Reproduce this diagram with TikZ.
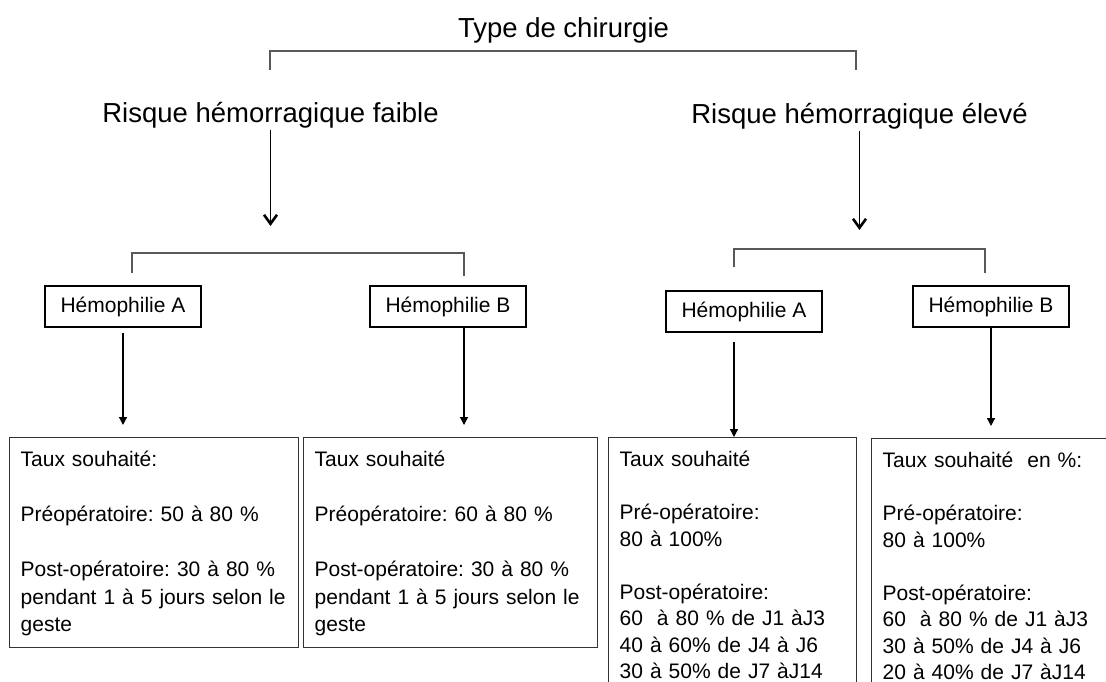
\documentclass[tikz,border=0pt]{standalone}
\usepackage{fontspec}
\setmainfont{Liberation Sans}
\usetikzlibrary{arrows.meta}
\definecolor{linegray}{rgb}{0.35, 0.35, 0.35}
\definecolor{boxgray}{rgb}{0.2, 0.2, 0.2}
\frenchspacing

\begin{document}
\begin{tikzpicture}[x=1pt, y=-1pt,
  head/.style={font=\fontsize{27.5}{33}\selectfont, anchor=base, inner sep=1pt},
  hemo/.style={draw=black, line width=1.2pt, minimum width=156pt, minimum height=41pt, inner sep=0pt, font=\fontsize{21}{25}\selectfont},
  rate/.style={draw=boxgray, line width=1.3pt, anchor=north west, align=left, inner xsep=11pt, inner ysep=0pt, text height=29pt, font=\fontsize{21}{27.5}\selectfont},
  brace/.style={draw=linegray, line width=1.5pt},
  bigarrow/.style={line width=1.5pt, -{Straight Barb[length=9pt,width=13pt,line width=2.6pt]}},
  smallarrow/.style={line width=1.3pt, -{Triangle[length=8pt,width=8pt]}}]
\useasboundingbox (0,0) rectangle (1106,682);
\clip (0,0) rectangle (1106,682);
%\draw [very thin, gray] (0,0) grid[step=50] (1106,682);
\draw (563.5,37.5) node[head] (title) {Type de chirurgie};
\draw (270.5,123) node[head] (rlow) {Risque hémorragique faible};
\draw (859.5,124) node[head] (rhigh) {Risque hémorragique élevé};
% brackets
\coordinate (tL) at (270,70); \coordinate (tR) at (856,70);
\draw[brace] (tL) -- ++(0,-19) -| (tR);
\coordinate (lL) at (132,273); \coordinate (lR) at (464,276);
\draw[brace] (lL) -- ++(0,-20) -| (lR);
\coordinate (hL) at (734,267); \coordinate (hR) at (985,273);
\draw[brace] (hL) -- ++(0,-18) -| (hR);
\coordinate (lowtip) at (270.5,226);
\coordinate (hightip) at (859.5,230);
\draw[bigarrow] (rlow.south) -- (lowtip);
\draw[bigarrow] (rhigh.south) -- (hightip);
\draw (123,306.5) node[hemo] (laA) {Hémophilie A};
\draw (448,306.5) node[hemo] (laB) {Hémophilie B};
\draw (744,311.5) node[hemo] (haA) {Hémophilie A};
\draw (991,306.5) node[hemo] (haB) {Hémophilie B};
\node[rate, text width=267pt, text depth=181pt] (lrA) at (9,437) {Taux souhaité:\\[\baselineskip]
  Préopératoire: 50 à 80 \%\\[\baselineskip]
  Post-opératoire: 30 à 80 \%\\ pendant 1 à 5 jours selon le\\ geste};
\node[rate, text width=272pt, text depth=181pt] (lrB) at (303,437) {Taux souhaité\\[\baselineskip]
  Préopératoire: 60 à 80 \%\\[\baselineskip]
  Post-opératoire: 30 à 80 \%\\ pendant 1 à 5 jours selon le\\ geste};
\node[rate, font=\fontsize{21}{26.5}\selectfont, text width=226pt, text depth=260pt] (hrA) at (608,437) {Taux souhaité\\[\baselineskip]
  Pré-opératoire:\\ 80 à 100\%\\[\baselineskip]
  Post-opératoire:\\ 60\ \ à 80 \% de J1 àJ3\\ 40 à 60\% de J4 à J6\\ 30 à 50\% de J7 àJ14};
\node[rate, font=\fontsize{21}{26.5}\selectfont, text width=260pt, text depth=260pt] (hrB) at (871,438) {Taux souhaité\ \ en \%:\\[\baselineskip]
  Pré-opératoire:\\ 80 à 100\%\\[\baselineskip]
  Post-opératoire:\\ 60\ \ à 80 \% de J1 àJ3\\ 30 à 50\% de J4 à J6\\ 20 à 40\% de J7 àJ14};
\draw[smallarrow, shorten <=5pt, shorten >=12pt] (laA.south) -- (laA.south |- lrA.north);
\draw[smallarrow, shorten >=12pt] (laB.south -| lR) -- (lrB.north -| lR);
\draw[smallarrow, shorten <=9pt] (haA.south -| hL) -- (hrA.north -| hL);
\draw[smallarrow, shorten >=12pt] (haB.south) -- (haB.south |- hrB.north); % gray in the original
\end{tikzpicture}
\end{document}
